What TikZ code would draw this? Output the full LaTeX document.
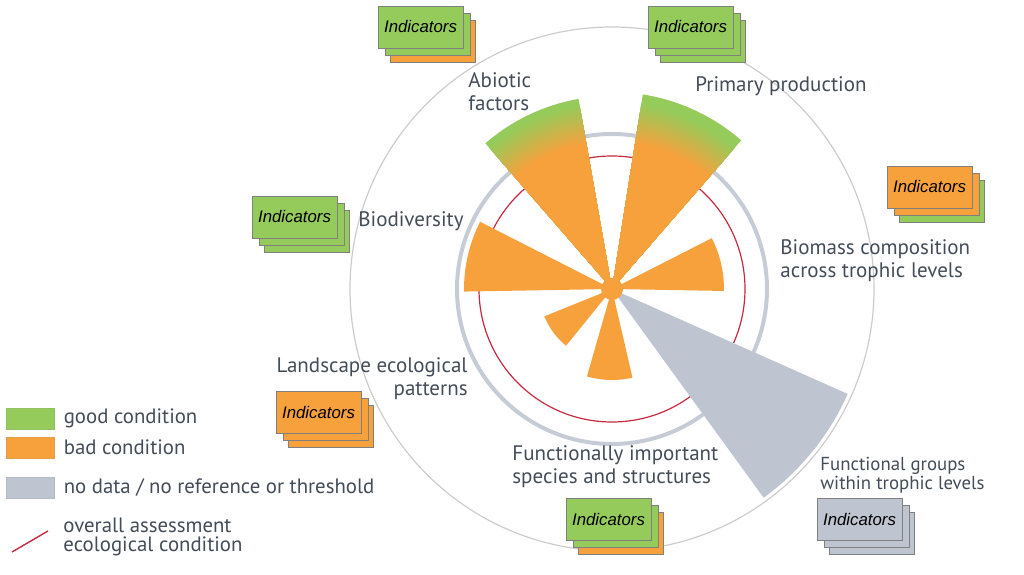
\documentclass[tikz,border=0pt]{standalone}
\usepackage{fontspec}
\setmainfont{PT Sans}
\newfontfamily\arialfont{Liberation Sans}
\usepackage{tikz}
\usetikzlibrary{positioning}
\definecolor{good}{HTML}{95CB5B}
\definecolor{bad}{HTML}{F7A13D}
\definecolor{nodata}{HTML}{BEC5D0}
\definecolor{ring}{HTML}{C6CCD5}
\definecolor{assess}{HTML}{C42A40}
\definecolor{labeltext}{HTML}{434C57}
\definecolor{boxline}{HTML}{808080}

\begin{document}
\begin{tikzpicture}[
    x=0.5pt, y=0.5pt,
    catlabel/.style={text=labeltext, inner sep=0pt, align=left,
                     font=\fontsize{10.5}{11.6}\selectfont},
    indbox/.style={draw=boxline, line width=0.4pt, fill=#1,
                   minimum width=42.5pt, minimum height=21pt, inner sep=0pt,
                   font=\arialfont\itshape\fontsize{8.4}{10}\selectfont},
    swatch/.style={draw=#1!85!gray, line width=0.4pt, fill=#1,
                   minimum width=24pt, minimum height=10.5pt, inner sep=0pt},
    legtext/.style={text=labeltext, inner sep=0pt, align=left,
                    font=\fontsize{10.4}{9.8}\selectfont},
]
    \useasboundingbox (0,0) rectangle (1024,574);

    % Rose
    \begin{scope}[shift={(612,285)}]
        \coordinate (C) at (0,0);
        \draw[gray!40, line width=0.6pt] (C) circle (262);
        \draw[ring, line width=2pt] (C) circle (155);
        \draw[assess, line width=0.6pt] (C) circle (133);

        \foreach \a/\b/\r in {-1/27/112, 153/181/148, 202/231/73, 254/283/91}
            \fill[bad] (C) -- (\a:\r) arc[start angle=\a, end angle=\b, radius=\r] -- cycle;

        \foreach \a/\b/\r in {100/131/193, 49/81/197} {
            \fill[good] (C) -- (\a:\r) arc[start angle=\a, end angle=\b, radius=\r] -- cycle;
            \foreach \k in {0,...,20} {
                \pgfmathsetmacro\rk{188-2*\k}
                \pgfmathsetmacro\mix{100-5*\k}
                \fill[good!\mix!bad] (C) -- (\a:\rk) arc[start angle=\a, end angle=\b, radius=\rk] -- cycle;
            }
        }

        \fill[nodata] (C) -- (-54:258) arc[start angle=-54, end angle=-24, radius=258] -- cycle;
        \fill[bad] (C) circle (11);
    \end{scope}

    % Category labels
    \node[catlabel, anchor=west] (abiotic) at (468,482) {Abiotic\\factors};
    \node[catlabel, anchor=west] (primary) at (695,488) {Primary production};
    \node[catlabel, anchor=west] (biomass) at (780,313) {Biomass composition\\across trophic levels};
    \node[catlabel, anchor=west] (biodiv) at (358,353) {Biodiversity};
    \node[catlabel, anchor=east, align=right] (landscape) at (468,195) {Landscape ecological\\patterns};
    \node[catlabel, anchor=west] (functional) at (512,107) {Functionally important\\species and structures};
    \node[catlabel, anchor=west, font=\fontsize{9.4}{9.7}\selectfont] (groups) at (820,99)
        {Functional groups\\within trophic levels};

    % Indicator stacks
    \foreach \nm/\x/\y/\ca/\cb/\cc in {abiotic/420.5/547/good/good/bad,
            primary/690.5/547/good/good/good, biomass/929.5/387/bad/bad/good,
            biodiv/294.5/357/good/good/good, landscape/318.5/162/bad/bad/bad,
            functional/608.5/55/good/good/bad, groups/859.5/55/nodata/nodata/nodata} {
        \node[indbox=\cc] (ind\nm-3) at (\x+12,\y-14) {};
        \node[indbox=\cb] (ind\nm-2) at (\x+7,\y-7) {};
        \node[indbox=\ca] (ind\nm) at (\x,\y) {Indicators};
    }

    % Legend
    \node[swatch=good] (legGood) at (30,155.5) {};
    \node[swatch=bad] (legBad) at (30,126.5) {};
    \node[swatch=nodata] (legNodata) at (30,86.5) {};
    \node[legtext, right=4.5pt of legGood] (txtGood) {good condition};
    \node[legtext, right=4.5pt of legBad] (txtBad) {bad condition};
    \node[legtext, right=4.5pt of legNodata] (txtNodata) {no data / no reference or threshold};
    \coordinate (legLineA) at (12,22);
    \coordinate (legLineB) at (48,43);
    \draw[assess, line width=0.7pt] (legLineA) -- (legLineB);
    \node[legtext, anchor=west] (txtAssess) at (63,37) {overall assessment\\ecological condition};
\end{tikzpicture}
\end{document}
